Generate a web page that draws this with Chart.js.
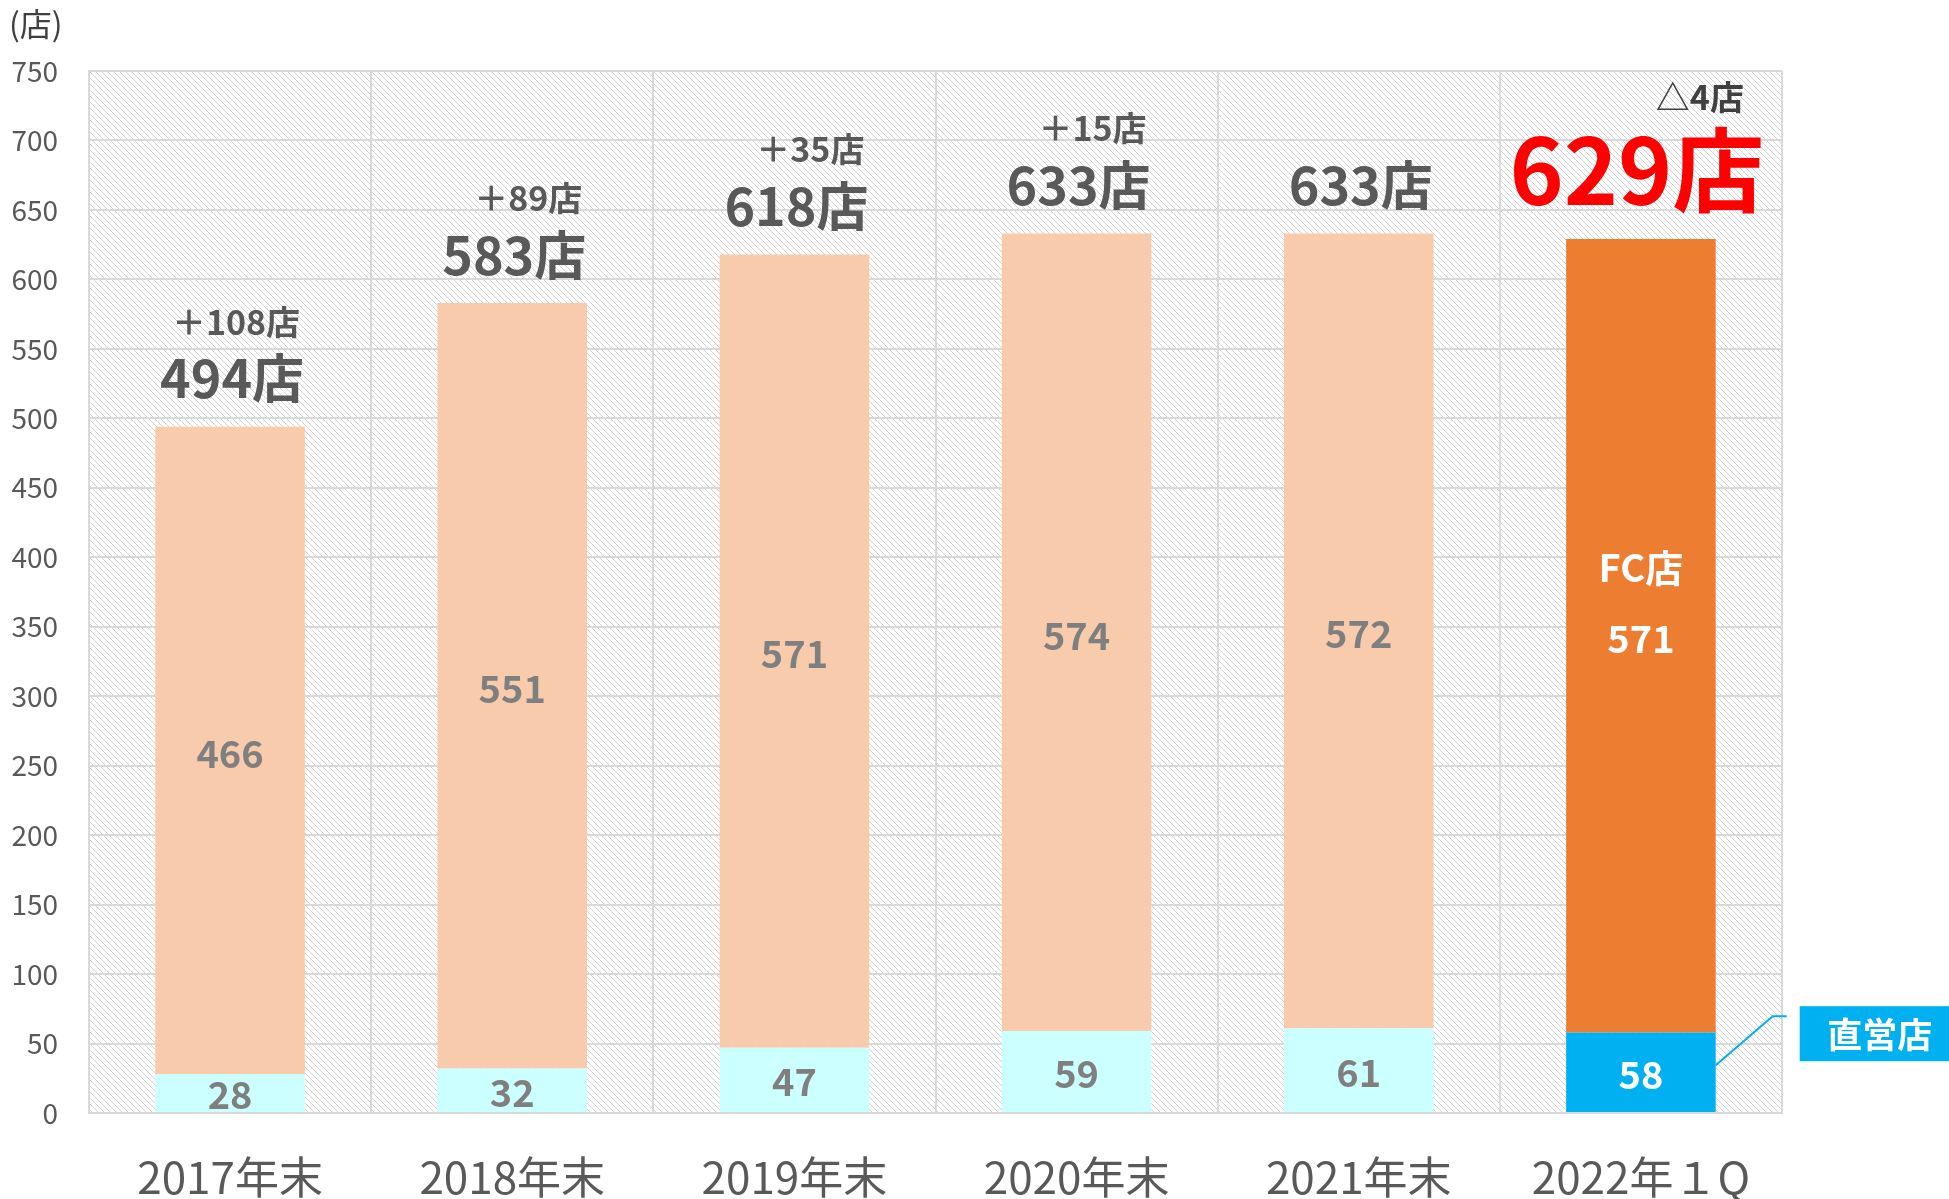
<!DOCTYPE html>
<html>
<head>
<meta charset="utf-8">
<script src="https://cdn.jsdelivr.net/npm/chart.js@4"></script>
<style>
  body { margin: 0; background: #fff; }
  canvas { display: block; }
</style>
</head>
<body>
<canvas id="storeChart" width="1949" height="1199"></canvas>
<script>
const categories = ["2017年末", "2018年末", "2019年末", "2020年末", "2021年末", "2022年１Q"];
const directStores = [28, 32, 47, 59, 61, 58];
const fcStores = [466, 551, 571, 574, 572, 571];
const changeLabels = ["＋108店", "＋89店", "＋35店", "＋15店", "", "△4店"];
const yMin = 0;
const yMax = 750;
const yStep = 50;

const FONT = "'Noto Sans CJK JP', 'Noto Sans', sans-serif";
const GRAY = "#595959";

// last bar is highlighted
const directColors = directStores.map((v, i) => (i === directStores.length - 1 ? "#00B0F0" : "#CCFFFF"));
const fcColors = fcStores.map((v, i) => (i === fcStores.length - 1 ? "#ED7D31" : "#F8CBAD"));

function makeHatch(ctx) {
    const c = document.createElement("canvas");
    c.width = 6;
    c.height = 6;
    const p = c.getContext("2d");
    p.fillStyle = "#d2d2d2";
    for (let i = 0; i < 6; i++) {
        p.fillRect(i, i, 1, 1);
    }
    return ctx.createPattern(c, "repeat");
}

const hatchPlugin = {
    id: "hatch",
    beforeDraw(chart) {
        const { ctx, chartArea } = chart;
        ctx.save();
        ctx.fillStyle = makeHatch(ctx);
        ctx.fillRect(chartArea.left, chartArea.top, chartArea.right - chartArea.left, chartArea.bottom - chartArea.top);
        ctx.fillStyle = "#404040";
        ctx.font = "32px " + FONT;
        ctx.textAlign = "left";
        ctx.textBaseline = "middle";
        ctx.fillText("(店)", 9, 24);
        ctx.restore();
    },
};

const labelPlugin = {
    id: "storeLabels",
    afterDatasetsDraw(chart) {
        const ctx = chart.ctx;
        const direct = chart.getDatasetMeta(0).data;
        const fc = chart.getDatasetMeta(1).data;
        const last = categories.length - 1;
        ctx.save();
        ctx.textBaseline = "middle";
        for (let i = 0; i < categories.length; i++) {
            const b0 = direct[i];
            const b1 = fc[i];
            const isLast = i === last;
            ctx.textAlign = "center";
            ctx.font = "bold 38px " + FONT;
            ctx.fillStyle = isLast ? "#ffffff" : "#7f7f7f";
            ctx.fillText(String(directStores[i]), b0.x, (b0.y + b0.base) / 2 + 2);
            ctx.fillText(String(fcStores[i]), b1.x, (b1.y + b1.base) / 2 + 3);
            if (isLast) ctx.fillText("FC店", b1.x, (b1.y + b1.base) / 2 - 68);

            const total = directStores[i] + fcStores[i];
            if (isLast) {
                ctx.font = "bold 92px " + FONT;
                ctx.fillStyle = "#FF0000";
                ctx.fillText(total + "店", b1.x - 4, b1.y - 69);
            } else {
                ctx.font = "bold 52px " + FONT;
                ctx.fillStyle = GRAY;
                ctx.fillText(total + "店", b1.x + 2, b1.y - 48);
            }
            if (changeLabels[i]) {
                ctx.textAlign = "right";
                ctx.font = "600 34px " + FONT;
                ctx.fillStyle = isLast ? "#404040" : GRAY;
                ctx.fillText(changeLabels[i], b1.x + (isLast ? 103 : 70), b1.y - (isLast ? 142 : 105));
            }
        }

        // callout for 直営店
        const b = direct[last];
        const rx = b.x + b.width / 2;
        const my = (b.y + b.base) / 2 - 7;
        ctx.strokeStyle = "#00B0F0";
        ctx.lineWidth = 2;
        ctx.beginPath();
        ctx.moveTo(rx, my);
        ctx.lineTo(rx + 57, my - 49);
        ctx.lineTo(rx + 71, my - 49);
        ctx.stroke();
        ctx.fillStyle = "#00B0F0";
        ctx.fillRect(rx + 84, my - 59, 160, 55);
        ctx.fillStyle = "#ffffff";
        ctx.textAlign = "center";
        ctx.font = "bold 35px " + FONT;
        ctx.fillText("直営店", rx + 164, my - 31);
        ctx.restore();
    },
};

const ctx = document.getElementById("storeChart").getContext("2d");
new Chart(ctx, {
    type: "bar",
    data: {
        labels: categories,
        datasets: [
            { label: "直営店", data: directStores, backgroundColor: directColors },
            { label: "FC店", data: fcStores, backgroundColor: fcColors },
        ],
    },
    options: {
        responsive: false,
        animation: false,
        layout: { padding: { top: 71, right: 167, left: 0, bottom: 0 } },
        datasets: { bar: { categoryPercentage: 1, barPercentage: 0.53 } },
        plugins: {
            legend: { display: false },
            tooltip: { enabled: false },
        },
        scales: {
            x: {
                stacked: true,
                grid: { color: "#d9d9d9", lineWidth: 2, drawTicks: false, offset: true },
                border: { color: "#d9d9d9", width: 2 },
                ticks: { color: GRAY, font: { size: 44, family: FONT }, padding: 38, maxRotation: 0 },
                afterFit(s) {
                    s.height = 86;
                },
            },
            y: {
                stacked: true,
                min: yMin,
                max: yMax,
                grid: { color: "#d9d9d9", lineWidth: 2, drawTicks: false },
                border: { color: "#d9d9d9", width: 2 },
                ticks: { stepSize: yStep, color: GRAY, font: { size: 28, family: FONT }, padding: 31 },
                afterFit(s) {
                    s.width = 89;
                },
            },
        },
    },
    plugins: [hatchPlugin, labelPlugin],
});
</script>
</body>
</html>
